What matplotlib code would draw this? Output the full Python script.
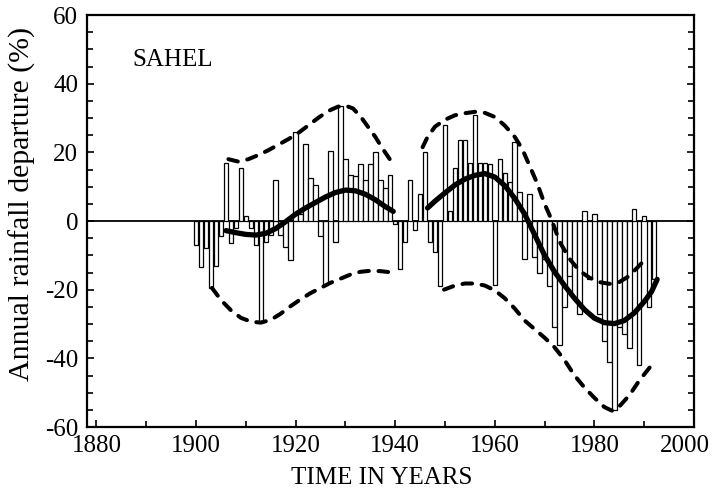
import matplotlib
matplotlib.use('Agg')
import matplotlib.pyplot as plt
from matplotlib.ticker import MultipleLocator

plt.rcParams['font.family'] = ['Liberation Serif', 'DejaVu Serif']
plt.rcParams['axes.unicode_minus'] = False

# ---- data ----
years = list(range(1900, 1993))
departure = [
    -7, -13.5, -8, -19.5, -13, -4.5, 17, -6.5, -2, 15.5,          # 1900-1909
    1.5, -2, -7, -29, -6, -4, 12, -4, -7.5, -11.5,                 # 1910-1919
    26, 2, 22.5, 12.5, 10.5, -4.5, -18.5, 20.5, -6, 33.5,          # 1920-1929
    18, 13.5, 13, 16.5, 12, 16.5, 20, 12, 9.5, 13.5,               # 1930-1939
    -1, -14, -6, 12, -2.5, 8, 20, -6, -9, -19,                     # 1940-1949
    28, 3, 15.5, 23.5, 23.5, 17, 31, 17, 17, 16.5,                 # 1950-1959
    -18.5, 18, 14, 11.5, 23, 8.5, -11, 8, -10.5, -15,              # 1960-1969
    -11, -19, -31, -36, -25, -16, -22, -27, 3, -17,                # 1970-1979
    2, -27, -35, -41, -55, -31, -33, -37, 3.5, -42,                # 1980-1989
    1.5, -25, -17,                                                 # 1990-1992
]

# smoothed trend (thick solid), two segments
trend1_x = [1906, 1908, 1910, 1912, 1914, 1916, 1918, 1920, 1922, 1924,
            1926, 1928, 1930, 1932, 1934, 1936, 1938, 1939.6]
trend1_y = [-2.8, -3.4, -3.9, -4.1, -3.6, -2.2, -0.2, 2.0, 3.8, 5.4,
            7.0, 8.3, 9.0, 8.8, 7.8, 6.2, 4.2, 2.8]
trend2_x = [1946.5, 1948, 1950, 1952, 1954, 1956, 1958, 1960, 1962, 1964,
            1966, 1968, 1970, 1972, 1974, 1976, 1978, 1980, 1982, 1984,
            1986, 1988, 1990, 1991.5, 1992.6]
trend2_y = [3.8, 5.8, 8.2, 10.5, 12.2, 13.3, 13.8, 12.8, 10.3, 6.6,
            2.0, -4.0, -10.0, -14.8, -18.8, -22.5, -25.8, -28.3, -29.6, -29.9,
            -29.0, -26.8, -23.5, -20.5, -17.0]

# upper envelope (dashed)
upper1_x = [1906.5, 1908.5, 1910.5, 1912.5, 1914.5, 1916.5, 1918.5, 1920.5,
            1922.5, 1924.5, 1926.5, 1928.5, 1930, 1931.5, 1933, 1934.5,
            1936, 1937.5, 1939, 1939.7]
upper1_y = [18, 17.3, 18, 19.2, 20.6, 22.2, 23.8, 25.6,
            27.8, 30, 32, 33.3, 33.6, 32.8, 30.5, 27.5,
            24.5, 21, 17.8, 16.3]
upper2_x = [1945.5, 1946.5, 1948, 1950, 1952, 1954, 1956, 1958, 1960, 1962,
            1964, 1965.5, 1967, 1968.5, 1970, 1971.5, 1973, 1975, 1977, 1979,
            1981, 1983, 1985, 1987, 1989, 1990]
upper2_y = [21.5, 24.5, 27.5, 29.5, 30.8, 31.4, 31.8, 31.5, 30.3, 27.8,
            24.5, 21, 16, 11, 5, 0, -6, -11, -14.5, -16.5,
            -17.8, -18.3, -17.8, -16, -13, -11.5]

# lower envelope (dashed)
lower1_x = [1903.2, 1905, 1907, 1909, 1911, 1913, 1915, 1917, 1919, 1921,
            1923, 1925, 1927, 1929, 1931, 1933, 1935, 1937, 1939.5]
lower1_y = [-19.5, -23, -26, -28.2, -29.3, -29.6, -28.8, -27, -24.8, -22.8,
            -21, -19.5, -18, -16.8, -15.6, -14.8, -14.5, -14.6, -15]
lower2_x = [1949.8, 1952, 1954, 1956, 1958, 1960, 1962, 1964, 1966, 1968,
            1970, 1972, 1974, 1976, 1978, 1980, 1982, 1983.6, 1985, 1987,
            1989, 1991.3]
lower2_y = [-20, -18.8, -18.2, -18.2, -18.8, -20.2, -22.5, -25.5, -29, -31.5,
            -34, -36.8, -40.5, -45, -48.5, -51.5, -54.2, -55.3, -54, -50.8,
            -46.5, -42.3]

xticks = [1880, 1900, 1920, 1940, 1960, 1980, 2000]
xticklabels = ['1880', '1900', '1920', '1940', '1960', '1980', '']
yticks = [-60, -40, -20, 0, 20, 40, 60]

# ---- figure ----
W, H = 714, 492
fig = plt.figure(figsize=(W / 100, H / 100), dpi=100)
ax = fig.add_axes([86.5 / W, 1 - 427 / H, (694 - 86.5) / W, (427 - 15) / H])

ax.axhline(0, color='black', lw=1.3, zorder=1)
ax.bar(years, departure, width=0.9, facecolor='white', edgecolor='black',
       linewidth=0.9, zorder=2)

dash_kw = dict(color='black', lw=2.9, linestyle=(0, (2.4, 2.4)),
               dash_capstyle='round', zorder=3)
for xs, ys in [(upper1_x, upper1_y), (upper2_x, upper2_y),
               (lower1_x, lower1_y), (lower2_x, lower2_y)]:
    ax.plot(xs, ys, **dash_kw)

for xs, ys in [(trend1_x, trend1_y), (trend2_x, trend2_y)]:
    ax.plot(xs, ys, color='black', lw=3.8, solid_capstyle='round', zorder=4)

ax.set_xlim(1878, 2000)
ax.set_ylim(-60, 60)
ax.set_xticks(xticks)
ax.set_xticklabels(xticklabels)
ax.set_yticks(yticks)
ax.xaxis.set_minor_locator(MultipleLocator(10))
ax.yaxis.set_minor_locator(MultipleLocator(5))
ax.tick_params(which='both', direction='in', top=False, right=True,
               labelsize=18, width=1.2, pad=6)
ax.tick_params(which='major', length=5)
ax.tick_params(which='minor', length=4)
for s in ax.spines.values():
    s.set_linewidth(1.6)

# last x tick label sits slightly left of its tick, as in the reference
ax.annotate(str(xticks[-1]), xy=(xticks[-1], 0),
            xycoords=('data', 'axes fraction'),
            xytext=(-9, -8.3), textcoords='offset pixels',
            ha='center', va='top', fontsize=18)

ax.text(1887.2, 45, 'SAHEL', fontsize=18, va='baseline', ha='left')

fig.text(22 / W, 1 - 204 / H, 'Annual rainfall departure (%)', rotation=90,
         ha='center', va='center', fontsize=21.5)
fig.text(382 / W, 1 - 478 / H, 'TIME IN YEARS', ha='center', va='center',
         fontsize=18)

fig.savefig('out.png', dpi=100)
